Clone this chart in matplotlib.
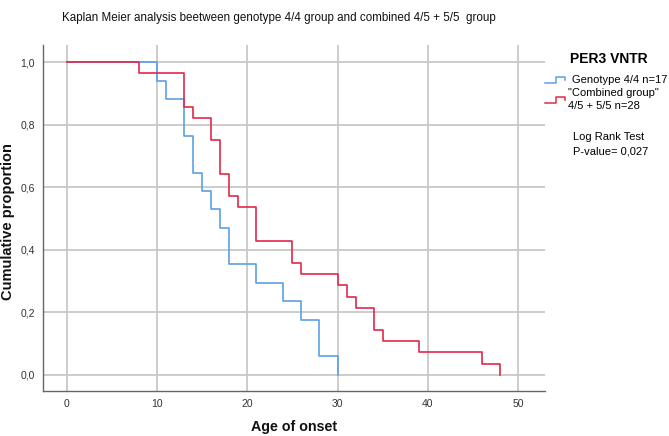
import matplotlib
matplotlib.use("Agg")
import matplotlib.pyplot as plt
from matplotlib.lines import Line2D
import numpy as np

plt.rcParams['font.family'] = ['Liberation Sans', 'DejaVu Sans']

# Event ages and counts
g44_ages = [10, 11, 13, 14, 15, 16, 17, 18, 21, 24, 26, 28, 30]
g44_events = [1, 1, 2, 2, 1, 1, 1, 2, 1, 1, 1, 2, 1]
g44_n = 17

comb_ages = [8, 13, 14, 16, 17, 18, 19, 21, 25, 26, 30, 31, 32, 34, 35, 39, 46, 48]
comb_events = [1, 3, 1, 2, 3, 2, 1, 3, 2, 1, 1, 1, 1, 2, 1, 1, 1, 1]
comb_n = 28

xticks = [0, 10, 20, 30, 40, 50]
yticks = [0.0, 0.2, 0.4, 0.6, 0.8, 1.0]
ytick_labels = ["0,0", "0,2", "0,4", "0,6", "0,8", "1,0"]

blue = "#5b9fe8"
red = "#e3284a"


def km(ages, events, n):
    x = [0.0]
    y = [1.0]
    at_risk = n
    s = 1.0
    for a, d in zip(ages, events):
        s = s * (at_risk - d) / at_risk
        at_risk -= d
        x.append(a)
        y.append(s)
    return np.array(x), np.array(y)


fig = plt.figure(figsize=(6.69, 4.36), dpi=100)
ax = fig.add_axes([0.0643, 0.1032, 0.7503, 0.7936])

for t in xticks:
    ax.axvline(t, color="#c8c8c8", lw=1.3, zorder=0)
for t in yticks:
    ax.axhline(t, color="#c8c8c8", lw=1.3, zorder=0)

x1, y1 = km(g44_ages, g44_events, g44_n)
x2, y2 = km(comb_ages, comb_events, comb_n)
ax.step(x1, y1, where="post", color=blue, lw=1.2, zorder=3)
ax.step(x2, y2, where="post", color=red, lw=1.2, zorder=4)

ax.set_xlim(-2.65, 53)
ax.set_ylim(-0.052, 1.055)
ax.set_xticks(xticks)
ax.set_xticklabels([str(t) for t in xticks])
ax.set_yticks(yticks)
ax.set_yticklabels(ytick_labels)
ax.tick_params(length=0, labelsize=7.5, colors="#333333", pad=6)
for s in ["top", "right"]:
    ax.spines[s].set_visible(False)
for s in ["left", "bottom"]:
    ax.spines[s].set_color("#666666")
    ax.spines[s].set_linewidth(1.0)

W, H = 669.0, 436.0


def fx(px):
    return px / W


def fy(py):
    return 1 - py / H


fig.text(fx(294), fy(427), "Age of onset", ha="center", va="center", fontsize=10.3,
         fontweight="bold", color="#111111")
fig.text(fx(8), fy(222), "Cumulative proportion", ha="center", va="center", fontsize=10.5,
         fontweight="bold", color="#111111", rotation=90)

fig.text(fx(279), fy(18), "Kaplan Meier analysis beetween genotype 4/4 group and combined 4/5 + 5/5  group",
         ha="center", va="center", fontsize=8.4, color="#111111")

# Legend (outside, right)
fig.text(fx(609), fy(59), "PER3 VNTR", ha="center", va="center", fontsize=10, fontweight="bold")


def step_handle(y, color):
    xs = [545, 556, 556, 565, 565]
    ys = [y + 3, y + 3, y - 3, y - 3, y]
    fig.add_artist(Line2D([fx(v) for v in xs], [fy(v) for v in ys], color=color, lw=1.1,
                          transform=fig.transFigure))


step_handle(80, blue)
fig.text(fx(572), fy(80), "Genotype 4/4 n=17", ha="left", va="center", fontsize=8)
step_handle(100, red)
fig.text(fx(568), fy(93), "\"Combined group\"", ha="left", va="center", fontsize=8)
fig.text(fx(568), fy(106), "4/5 + 5/5 n=28", ha="left", va="center", fontsize=8)
fig.text(fx(573), fy(137), "Log Rank Test", ha="left", va="center", fontsize=8)
fig.text(fx(573), fy(152), "P-value= 0,027", ha="left", va="center", fontsize=8)

fig.savefig("out.png", dpi=100)
